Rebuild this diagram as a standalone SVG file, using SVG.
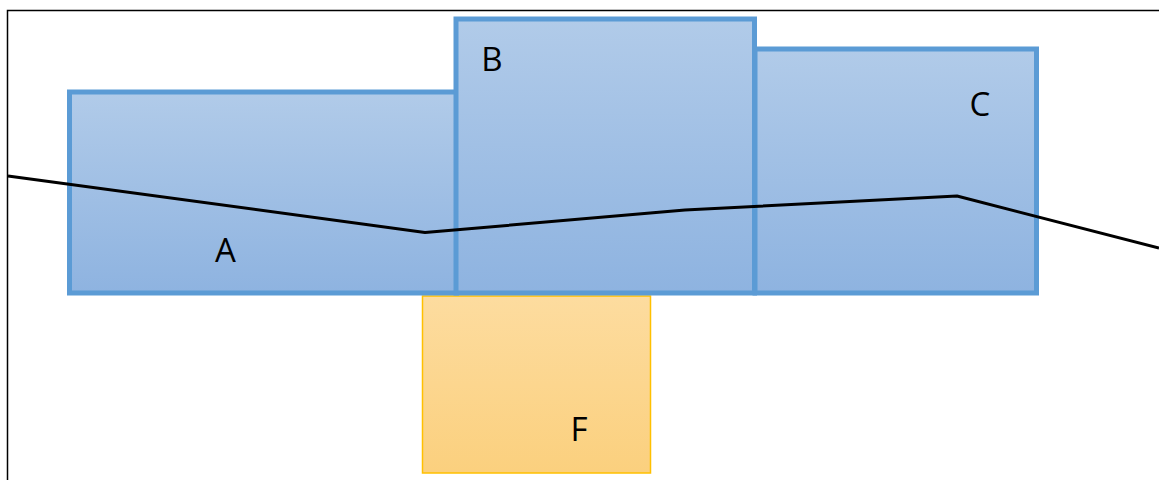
<svg xmlns="http://www.w3.org/2000/svg" width="1159" height="480" viewBox="0 0 1159 480">
<defs>
<linearGradient id="blue" x1="0" y1="0" x2="0" y2="1">
<stop offset="0" stop-color="#B1CBE9"/>
<stop offset="1" stop-color="#8EB3E0"/>
</linearGradient>
<linearGradient id="gold" x1="0" y1="0" x2="0" y2="1">
<stop offset="0" stop-color="#FDDC9F"/>
<stop offset="1" stop-color="#FBD07E"/>
</linearGradient>
<style>
.box{fill:url(#blue);stroke:#5B9BD5;stroke-width:5}
.boxF{fill:url(#gold);stroke:#FFC000;stroke-width:1.5}
.lbl{font-family:"Open Sans","Noto Sans",sans-serif;font-size:33px;fill:#000;text-anchor:middle}
.frame{fill:none;stroke:#000;stroke-width:1.5}
.conn{fill:none;stroke:#000;stroke-width:3;stroke-linejoin:round}
</style>
</defs>
<rect width="1159" height="480" fill="#fff"/>
<path class="frame" d="M7.5 480 V10.5 H1159"/>
<g id="F"><rect class="boxF" x="422.5" y="296" width="228" height="177"/><text class="lbl" x="579" y="441">F</text></g>
<g id="A"><rect class="box" x="69.5" y="92" width="387" height="201"/><text class="lbl" x="225.5" y="262">A</text></g>
<g id="C"><rect class="box" x="755" y="49" width="281.5" height="244"/><text class="lbl" x="980" y="116">C</text></g>
<g id="B"><rect class="box" x="456" y="19" width="298.5" height="274"/><text class="lbl" x="492" y="71">B</text></g>
<g id="connectors"><polyline class="conn" points="8,176 425,232.5 685,210 957,196 1159,248"/></g>
</svg>
